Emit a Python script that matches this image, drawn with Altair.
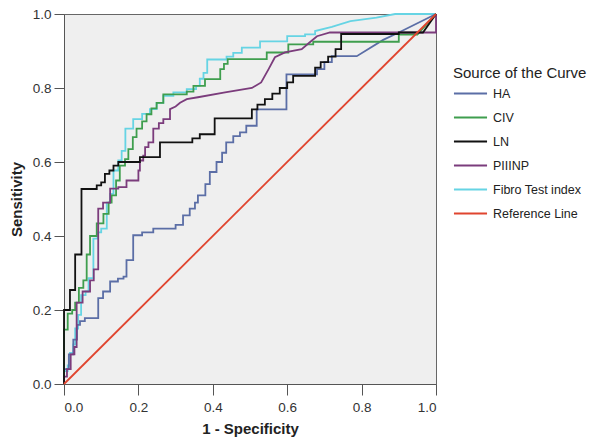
import altair as alt
import pandas as pd

series_names = ["HA", "CIV", "LN", "PIIINP", "Fibro Test index", "Reference Line"]
series_colors = ["#5b6ea6", "#3f9e4e", "#111111", "#7b3c7c", "#66d4e4", "#e0452f"]

ha_pts = [(0,0),(0,0.04),(0.013,0.04),(0.013,0.08),(0.025,0.08),(0.025,0.12),(0.035,0.12),(0.035,0.16),
          (0.043,0.16),(0.043,0.17),(0.056,0.17),(0.056,0.178),(0.092,0.178),(0.092,0.232),(0.105,0.232),
          (0.105,0.25),(0.124,0.25),(0.124,0.277),(0.145,0.277),(0.145,0.285),(0.16,0.285),(0.16,0.29),
          (0.168,0.29),(0.168,0.335),(0.186,0.335),(0.186,0.402),(0.21,0.402),(0.21,0.41),(0.24,0.41),
          (0.24,0.42),(0.30,0.42),(0.30,0.43),(0.32,0.43),(0.32,0.456),(0.338,0.456),(0.338,0.474),
          (0.352,0.474),(0.352,0.49),(0.36,0.49),(0.36,0.51),(0.38,0.51),(0.38,0.54),(0.392,0.54),
          (0.392,0.573),(0.41,0.573),(0.41,0.60),(0.425,0.60),(0.425,0.625),(0.436,0.625),(0.436,0.653),
          (0.455,0.653),(0.455,0.67),(0.473,0.67),(0.473,0.68),(0.49,0.68),(0.49,0.698),(0.518,0.698),
          (0.518,0.742),(0.598,0.742),(0.598,0.837),(0.68,0.837),(0.68,0.851),(0.70,0.851),(0.70,0.87),
          (0.72,0.87),(0.72,0.886),(0.787,0.886),(0.858,0.93),(0.90,0.95),(1,1)]

civ_pts = [(0,0),(0,0.147),(0.01,0.147),(0.01,0.19),(0.022,0.19),(0.022,0.2),(0.03,0.2),(0.03,0.22),
           (0.04,0.22),(0.04,0.26),(0.052,0.26),(0.052,0.28),(0.061,0.28),(0.061,0.35),(0.07,0.35),
           (0.07,0.40),(0.088,0.40),(0.088,0.434),(0.106,0.434),(0.106,0.46),(0.12,0.46),(0.12,0.49),
           (0.128,0.49),(0.128,0.51),(0.14,0.51),(0.14,0.55),(0.15,0.55),(0.15,0.59),(0.164,0.59),
           (0.164,0.608),(0.173,0.608),(0.173,0.635),(0.185,0.635),(0.185,0.667),(0.195,0.667),
           (0.195,0.69),(0.21,0.69),(0.21,0.71),(0.222,0.71),(0.222,0.729),(0.235,0.729),(0.235,0.745),
           (0.249,0.745),(0.249,0.76),(0.267,0.76),(0.267,0.783),(0.33,0.783),(0.33,0.79),(0.348,0.79),
           (0.348,0.806),(0.379,0.806),(0.379,0.824),(0.42,0.824),(0.42,0.851),(0.43,0.851),(0.43,0.865),
           (0.44,0.865),(0.44,0.878),(0.545,0.878),(0.545,0.896),(0.603,0.896),(0.603,0.918),(0.67,0.918),
           (0.67,0.925),(0.90,0.925),(0.90,0.944),(0.95,0.944),(1,1)]

ln_pts = [(0,0),(0,0.2),(0.016,0.2),(0.016,0.254),(0.03,0.254),(0.03,0.35),(0.047,0.35),(0.047,0.527),
          (0.088,0.527),(0.088,0.537),(0.10,0.537),(0.10,0.545),(0.11,0.545),(0.11,0.568),(0.122,0.568),
          (0.122,0.577),(0.133,0.577),(0.133,0.59),(0.146,0.59),(0.146,0.60),(0.204,0.60),(0.204,0.613),
          (0.258,0.613),(0.258,0.653),(0.345,0.653),(0.345,0.664),(0.365,0.664),(0.365,0.675),
          (0.405,0.675),(0.405,0.718),(0.505,0.718),(0.505,0.742),(0.52,0.742),(0.52,0.755),(0.54,0.755),
          (0.54,0.77),(0.56,0.77),(0.56,0.785),(0.58,0.785),(0.58,0.80),(0.60,0.80),(0.60,0.815),
          (0.616,0.815),(0.616,0.833),(0.675,0.833),(0.675,0.855),(0.69,0.855),(0.69,0.87),(0.71,0.87),
          (0.71,0.885),(0.73,0.885),(0.73,0.905),(0.745,0.905),(0.745,0.946),(0.90,0.946),(0.90,0.95),
          (0.965,0.95),(1,1)]

piiinp_pts = [(0,0),(0,0.02),(0.008,0.02),(0.008,0.04),(0.018,0.04),(0.018,0.08),(0.028,0.08),(0.028,0.1),
              (0.034,0.1),(0.034,0.22),(0.05,0.22),(0.05,0.25),(0.07,0.25),(0.07,0.28),(0.08,0.28),
              (0.08,0.31),(0.092,0.31),(0.092,0.474),(0.105,0.474),(0.105,0.49),(0.124,0.49),(0.124,0.528),
              (0.146,0.528),(0.146,0.532),(0.168,0.532),(0.168,0.55),(0.2,0.55),(0.2,0.577),(0.204,0.577),
              (0.204,0.604),(0.213,0.604),(0.213,0.617),(0.218,0.617),(0.218,0.64),(0.227,0.64),
              (0.227,0.653),(0.24,0.653),(0.24,0.69),(0.255,0.69),(0.255,0.705),(0.267,0.705),
              (0.267,0.716),(0.285,0.716),(0.285,0.743),(0.30,0.75),(0.312,0.76),(0.33,0.77),(0.36,0.775),
              (0.433,0.788),(0.505,0.80),(0.53,0.815),(0.55,0.851),(0.567,0.883),(0.594,0.896),
              (0.639,0.905),(0.66,0.923),(0.68,0.94),(0.715,0.95),(1.0,0.95),(1.0,1.0)]

fibro_pts = [(0,0),(0,0.035),(0.01,0.035),(0.01,0.05),(0.016,0.05),(0.016,0.084),(0.025,0.084),
             (0.025,0.107),(0.03,0.107),(0.03,0.15),(0.038,0.15),(0.038,0.187),(0.046,0.187),(0.046,0.24),
             (0.058,0.24),(0.058,0.25),(0.066,0.25),(0.066,0.286),(0.079,0.286),(0.079,0.393),(0.09,0.393),
             (0.09,0.41),(0.1,0.41),(0.1,0.42),(0.115,0.42),(0.115,0.49),(0.124,0.49),(0.124,0.514),
             (0.133,0.514),(0.133,0.577),(0.146,0.577),(0.146,0.604),(0.155,0.604),(0.155,0.63),
             (0.165,0.63),(0.165,0.69),(0.186,0.69),(0.186,0.716),(0.21,0.716),(0.21,0.73),(0.231,0.73),
             (0.231,0.743),(0.249,0.743),(0.249,0.76),(0.267,0.76),(0.267,0.779),(0.294,0.779),
             (0.294,0.788),(0.33,0.788),(0.33,0.797),(0.355,0.797),(0.355,0.806),(0.365,0.806),
             (0.365,0.825),(0.375,0.825),(0.375,0.841),(0.385,0.841),(0.385,0.877),(0.437,0.877),
             (0.437,0.885),(0.455,0.885),(0.455,0.895),(0.478,0.895),(0.478,0.909),(0.527,0.909),
             (0.527,0.926),(0.6,0.926),(0.6,0.94),(0.648,0.94),(0.648,0.945),(0.675,0.945),(0.675,0.954),
             (0.72,0.965),(0.77,0.981),(0.84,0.99),(0.89,1.0),(1,1)]

ref_pts = [(0,0),(1,1)]

draw_order = [("Fibro Test index", fibro_pts), ("HA", ha_pts), ("CIV", civ_pts),
              ("PIIINP", piiinp_pts), ("LN", ln_pts), ("Reference Line", ref_pts)]

rows = []
for g, (name, pts) in enumerate(draw_order):
    for i, (xv, yv) in enumerate(pts):
        rows.append({"series": name, "grp": g, "idx": i, "fpr": xv, "tpr": yv})
df = pd.DataFrame(rows)

ticks = [0.0, 0.2, 0.4, 0.6, 0.8, 1.0]
FONT = "Liberation Sans"

chart = alt.Chart(df).mark_line(strokeJoin="miter").encode(
    x=alt.X("fpr:Q", scale=alt.Scale(domain=[0, 1], nice=False),
            axis=alt.Axis(values=ticks, format=".1f", title="1 - Specificity",
                          tickSize=11, labelPadding=5, titlePadding=8)),
    y=alt.Y("tpr:Q", scale=alt.Scale(domain=[0, 1], nice=False),
            axis=alt.Axis(values=ticks, format=".1f", title="Sensitivity",
                          tickSize=10, labelPadding=3, titlePadding=8)),
    color=alt.Color("series:N",
                    scale=alt.Scale(domain=series_names, range=series_colors),
                    legend=alt.Legend(title="Source of the Curve", orient="none",
                                      legendX=389, legendY=52, symbolType="stroke",
                                      symbolSize=1095, symbolStrokeWidth=2,
                                      labelFontSize=12.5, titleFontSize=15,
                                      titleFontWeight="normal", labelFont=FONT,
                                      titleFont=FONT, labelColor="#222", titleColor="#222",
                                      labelOffset=5, rowPadding=0, titlePadding=-5)),
    strokeWidth=alt.StrokeWidth("series:N",
                                scale=alt.Scale(domain=series_names,
                                                range=[1.8, 1.8, 2.2, 1.8, 2.6, 1.6]),
                                legend=None),
    detail="grp:N",
    order="idx:Q",
).properties(
    width=372, height=370,
    autosize=alt.AutoSizeParams(type="none"),
    padding={"left": 56, "top": 6, "right": 156, "bottom": 58},
).configure_view(
    fill="#efefef", stroke="#666666", strokeWidth=1
).configure_axis(
    grid=False, domainColor="#555555", tickColor="#555555", labelColor="#333333",
    titleColor="#222222", labelFont=FONT, titleFont=FONT, labelFontSize=13.5,
    titleFontSize=15, titleFontWeight="bold"
)

chart.save("out.html", embed_options={"renderer": "svg", "actions": False})
